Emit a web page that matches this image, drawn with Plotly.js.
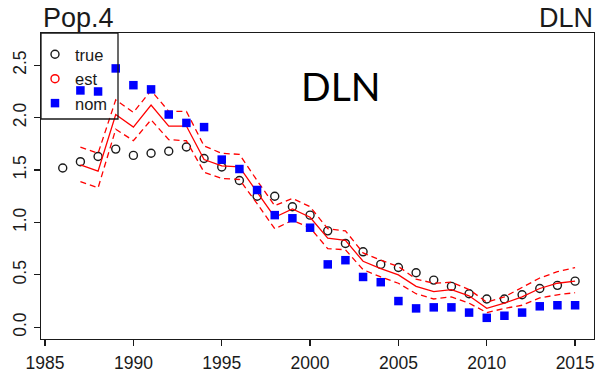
<!DOCTYPE html>
<html>
<head>
<meta charset="utf-8">
<script src="https://cdn.plot.ly/plotly-3.0.1.min.js"></script>
<style>
  html, body { margin: 0; padding: 0; background: #ffffff; }
  #chart { width: 597px; height: 375px; }
</style>
</head>
<body>
<div id="chart"></div>
<script>
// Survey years
const yearsTrue = [1986, 1987, 1988, 1989, 1990, 1991, 1992, 1993, 1994, 1995,
                   1996, 1997, 1998, 1999, 2000, 2001, 2002, 2003, 2004, 2005,
                   2006, 2007, 2008, 2009, 2010, 2011, 2012, 2013, 2014, 2015];
const yearsEst  = [1987, 1988, 1989, 1990, 1991, 1992, 1993, 1994, 1995,
                   1996, 1997, 1998, 1999, 2000, 2001, 2002, 2003, 2004, 2005,
                   2006, 2007, 2008, 2009, 2010, 2011, 2012, 2013, 2014, 2015];

// True population index
const trueVals = [1.52, 1.58, 1.63, 1.70, 1.64, 1.66, 1.68, 1.72, 1.61, 1.53,
                  1.40, 1.25, 1.25, 1.15, 1.07, 0.92, 0.80, 0.72, 0.60, 0.57,
                  0.52, 0.45, 0.39, 0.32, 0.27, 0.27, 0.31, 0.37, 0.40, 0.44];

// Model estimate with its lower / upper interval
const estVals = [1.55, 1.49, 2.03, 1.91, 2.12, 1.92, 1.92, 1.60, 1.54,
                 1.53, 1.29, 1.05, 1.13, 1.05, 0.85, 0.83, 0.63, 0.56, 0.50,
                 0.39, 0.34, 0.36, 0.30, 0.18, 0.23, 0.29, 0.37, 0.42, 0.44];
const estUpper = [1.72, 1.66, 2.17, 2.05, 2.26, 2.06, 2.06, 1.73, 1.66,
                  1.65, 1.40, 1.16, 1.23, 1.15, 0.94, 0.92, 0.71, 0.64, 0.58,
                  0.46, 0.42, 0.43, 0.36, 0.24, 0.29, 0.38, 0.47, 0.53, 0.57];
const estLower = [1.39, 1.33, 1.89, 1.78, 1.98, 1.79, 1.78, 1.48, 1.42,
                  1.41, 1.18, 0.94, 1.02, 0.95, 0.75, 0.74, 0.55, 0.48, 0.42,
                  0.32, 0.27, 0.29, 0.23, 0.14, 0.18, 0.21, 0.28, 0.31, 0.33];

// Nominal index
const nomVals = [2.26, 2.25, 2.47, 2.31, 2.27, 2.03, 1.95, 1.91, 1.60,
                 1.51, 1.31, 1.07, 1.04, 0.95, 0.60, 0.64, 0.48, 0.43, 0.25,
                 0.18, 0.19, 0.19, 0.14, 0.09, 0.11, 0.14, 0.20, 0.21, 0.21];

const xTickVals = [1985, 1990, 1995, 2000, 2005, 2010, 2015];
const yTickVals = [0.0, 0.5, 1.0, 1.5, 2.0, 2.5];
const yTickText = ['0.0', '0.5', '1.0', '1.5', '2.0', '2.5'];

const RED = '#ff0000';
const BLUE = '#0000ff';
const INK = '#1a1a1a';
const BASE_FONT = 'Liberation Sans, Arial, sans-serif';

const traces = [
  {
    x: yearsTrue, y: trueVals, name: 'true', mode: 'markers', type: 'scatter',
    marker: { symbol: 'circle-open', size: 8, color: INK, line: { width: 1.4, color: INK } },
    legendrank: 1
  },
  {
    x: yearsEst, y: estVals, name: 'est line', mode: 'lines', type: 'scatter',
    line: { color: RED, width: 1.3 }, showlegend: false
  },
  {
    x: yearsEst, y: estUpper, name: 'upper', mode: 'lines', type: 'scatter',
    line: { color: RED, width: 1.3, dash: '6px,4px' }, showlegend: false
  },
  {
    x: yearsEst, y: estLower, name: 'lower', mode: 'lines', type: 'scatter',
    line: { color: RED, width: 1.3, dash: '6px,4px' }, showlegend: false
  },
  {
    x: yearsEst, y: nomVals, name: 'nom', mode: 'markers', type: 'scatter',
    marker: { symbol: 'square', size: 8.5, color: BLUE },
    legendrank: 3
  },
  {
    // legend key for the estimate
    x: [null], y: [null], name: 'est', mode: 'markers', type: 'scatter',
    marker: { symbol: 'circle-open', size: 8, color: RED, line: { width: 1.4, color: RED } },
    legendrank: 2
  }
];

const plotL = 41, plotR = 594, plotT = 33, plotB = 339;
const W = 597, H = 375;
const px = v => (v - plotL) / (plotR - plotL);
const py = v => (plotB - v) / (plotB - plotT);

const layout = {
  width: W, height: H,
  margin: { l: plotL, r: W - plotR, t: plotT, b: H - plotB, pad: 0 },
  paper_bgcolor: '#ffffff',
  plot_bgcolor: '#ffffff',
  font: { family: BASE_FONT, color: INK, size: 17.5 },
  showlegend: true,
  legend: {
    x: px(35), y: py(37), xanchor: 'left', yanchor: 'top',
    bgcolor: 'rgba(0,0,0,0)', borderwidth: 0,
    font: { family: BASE_FONT, size: 16.5, color: INK },
    traceorder: 'normal'
  },
  xaxis: {
    range: [1984.77, 2016.07],
    tickvals: xTickVals,
    ticktext: xTickVals.map(String),
    ticks: 'outside', ticklen: 6, tickwidth: 1.2, tickcolor: INK,
    showline: true, linecolor: INK, linewidth: 1.3, mirror: true,
    showgrid: false, zeroline: false,
    tickfont: { family: BASE_FONT, size: 17.5, color: INK },
    ticklabelstandoff: 2
  },
  yaxis: {
    range: [-0.112, 2.808],
    tickvals: yTickVals,
    ticktext: yTickText,
    tickangle: -90,
    ticks: 'outside', ticklen: 6, tickwidth: 1.2, tickcolor: INK,
    showline: true, linecolor: INK, linewidth: 1.3, mirror: true,
    showgrid: false, zeroline: false,
    tickfont: { family: BASE_FONT, size: 17.5, color: INK },
    ticklabelstandoff: 1
  },
  shapes: [
    {
      // frame around the key
      type: 'rect', xref: 'paper', yref: 'paper',
      x0: 0, x1: px(118), y0: py(119), y1: 1,
      line: { color: INK, width: 1.3 }, fillcolor: 'rgba(0,0,0,0)'
    }
  ],
  annotations: [
    {
      text: 'Pop.4', xref: 'paper', yref: 'paper', x: px(41), y: py(18),
      xanchor: 'left', yanchor: 'middle', showarrow: false,
      font: { family: BASE_FONT, size: 27, color: INK }
    },
    {
      text: 'DLN', xref: 'paper', yref: 'paper', x: px(595), y: py(18),
      xanchor: 'right', yanchor: 'middle', showarrow: false,
      font: { family: BASE_FONT, size: 27, color: INK }
    },
    {
      text: 'DLN', xref: 'paper', yref: 'paper', x: px(340), y: py(86),
      xanchor: 'center', yanchor: 'middle', showarrow: false,
      font: { family: 'Lato, Carlito, sans-serif', size: 39, color: '#000000' }
    }
  ]
};

Plotly.newPlot('chart', traces, layout, { staticPlot: true, displayModeBar: false });
</script>
</body>
</html>
